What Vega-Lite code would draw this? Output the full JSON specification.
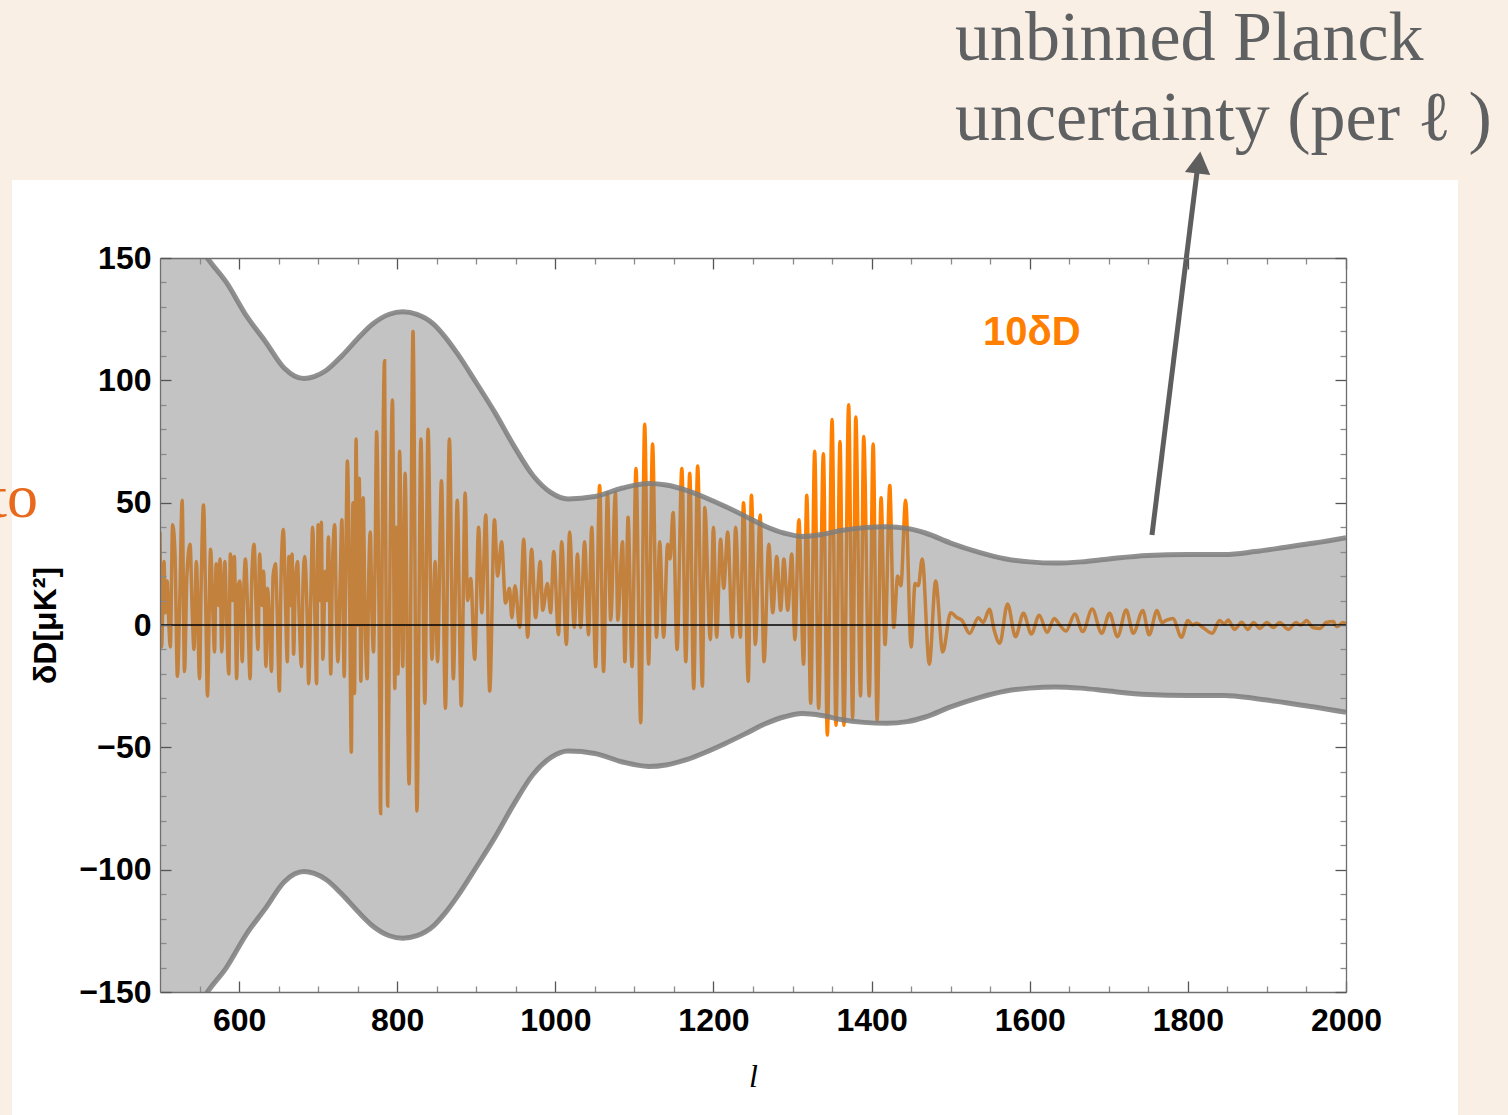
{
  "$schema": "https://vega.github.io/schema/vega-lite/v6.json",
  "width": 1186,
  "height": 734,
  "autosize": {"type": "none"},
  "padding": {"left": 160, "top": 258, "right": 162, "bottom": 123},
  "background": "#f9efe4",
  "config": {
    "view": {"stroke": null, "fill": "white"},
    "axis": {"grid": false, "domain": true, "domainColor": "#6e6e6e", "domainWidth": 1.3, "zindex": 2}
  },
  "datasets": {
    "one": [{}],
    "delta": [
      {"l": 500, "d": 38}, {"l": 502, "d": -9}, {"l": 505, "d": 26}, {"l": 507, "d": 5}, {"l": 509, "d": 18},
      {"l": 511, "d": 2}, {"l": 513, "d": -9}, {"l": 516, "d": 41}, {"l": 519, "d": 29}, {"l": 522, "d": -21},
      {"l": 525, "d": 10}, {"l": 528, "d": 51}, {"l": 531, "d": -19}, {"l": 534, "d": 20}, {"l": 538, "d": 33},
      {"l": 541, "d": 3}, {"l": 543, "d": -10}, {"l": 546, "d": 26}, {"l": 550, "d": -22}, {"l": 552, "d": 15},
      {"l": 555, "d": 49}, {"l": 558, "d": 5}, {"l": 560, "d": -29}, {"l": 564, "d": 31}, {"l": 567, "d": 4},
      {"l": 569, "d": -11}, {"l": 571, "d": 25}, {"l": 574, "d": 8}, {"l": 576, "d": 27}, {"l": 578, "d": -11},
      {"l": 582, "d": 26}, {"l": 584, "d": 6}, {"l": 587, "d": -20}, {"l": 589, "d": 29}, {"l": 592, "d": 10},
      {"l": 594, "d": 28}, {"l": 597, "d": -22}, {"l": 599, "d": 16}, {"l": 601, "d": 18}, {"l": 604, "d": -15},
      {"l": 606, "d": 14}, {"l": 608, "d": 27}, {"l": 611, "d": 5}, {"l": 614, "d": -22}, {"l": 616, "d": 18},
      {"l": 619, "d": 33}, {"l": 622, "d": 2}, {"l": 624, "d": -10}, {"l": 626, "d": 29}, {"l": 629, "d": 8},
      {"l": 631, "d": 22}, {"l": 634, "d": -17}, {"l": 636, "d": 15}, {"l": 638, "d": 5}, {"l": 641, "d": -19},
      {"l": 643, "d": 20}, {"l": 646, "d": 25}, {"l": 648, "d": 8}, {"l": 651, "d": -27}, {"l": 653, "d": 18},
      {"l": 656, "d": 39}, {"l": 659, "d": 5}, {"l": 661, "d": -15}, {"l": 663, "d": 28}, {"l": 665, "d": 8},
      {"l": 667, "d": 29}, {"l": 669, "d": -12}, {"l": 671, "d": 15}, {"l": 674, "d": 26}, {"l": 676, "d": 4},
      {"l": 679, "d": -17}, {"l": 681, "d": 18}, {"l": 683, "d": 28}, {"l": 686, "d": 5}, {"l": 688, "d": -24},
      {"l": 691, "d": 15}, {"l": 693, "d": 40}, {"l": 696, "d": 2}, {"l": 698, "d": -24}, {"l": 700, "d": 41},
      {"l": 702, "d": 10}, {"l": 704, "d": 42}, {"l": 706, "d": -14}, {"l": 709, "d": 22}, {"l": 711, "d": 10},
      {"l": 713, "d": 36}, {"l": 716, "d": -20}, {"l": 718, "d": 22}, {"l": 721, "d": 41}, {"l": 723, "d": 5},
      {"l": 725, "d": -15}, {"l": 728, "d": 20}, {"l": 730, "d": 43}, {"l": 733, "d": -21}, {"l": 735, "d": 25},
      {"l": 737, "d": 67}, {"l": 740, "d": 5}, {"l": 742, "d": -52}, {"l": 744, "d": 50}, {"l": 746, "d": -28},
      {"l": 748, "d": 76}, {"l": 750, "d": 0}, {"l": 752, "d": 60}, {"l": 754, "d": -23}, {"l": 757, "d": 52},
      {"l": 759, "d": 10}, {"l": 762, "d": -22}, {"l": 764, "d": 20}, {"l": 766, "d": 38}, {"l": 768, "d": 5},
      {"l": 770, "d": -11}, {"l": 772, "d": 25}, {"l": 774, "d": 79}, {"l": 777, "d": 5}, {"l": 779, "d": -77},
      {"l": 781, "d": 30}, {"l": 784, "d": 108}, {"l": 786, "d": 5}, {"l": 788, "d": -74}, {"l": 791, "d": 30},
      {"l": 794, "d": 92}, {"l": 797, "d": -26}, {"l": 799, "d": 40}, {"l": 801, "d": -20}, {"l": 803, "d": 71},
      {"l": 807, "d": -17}, {"l": 810, "d": 62}, {"l": 815, "d": -65}, {"l": 820, "d": 120}, {"l": 825, "d": -76},
      {"l": 830, "d": 76}, {"l": 835, "d": -32}, {"l": 839, "d": 80}, {"l": 844, "d": -14}, {"l": 848, "d": 26},
      {"l": 851, "d": -15}, {"l": 856, "d": 59}, {"l": 861, "d": -34}, {"l": 866, "d": 76}, {"l": 871, "d": -22},
      {"l": 876, "d": 51}, {"l": 881, "d": -33}, {"l": 886, "d": 54}, {"l": 889, "d": 10}, {"l": 893, "d": 19},
      {"l": 898, "d": -14}, {"l": 903, "d": 40}, {"l": 907, "d": 5}, {"l": 912, "d": 45}, {"l": 917, "d": -27},
      {"l": 923, "d": 43}, {"l": 927, "d": 20}, {"l": 932, "d": 34}, {"l": 937, "d": 9}, {"l": 942, "d": 15},
      {"l": 945, "d": 3}, {"l": 949, "d": 16}, {"l": 955, "d": -1}, {"l": 960, "d": 35}, {"l": 965, "d": -5},
      {"l": 970, "d": 31}, {"l": 975, "d": 3}, {"l": 981, "d": 26}, {"l": 984, "d": 6}, {"l": 990, "d": 17},
      {"l": 994, "d": 5}, {"l": 998, "d": 30}, {"l": 1004, "d": -4}, {"l": 1008, "d": 34}, {"l": 1014, "d": -8},
      {"l": 1018, "d": 38}, {"l": 1024, "d": -1}, {"l": 1028, "d": 29}, {"l": 1032, "d": -1}, {"l": 1037, "d": 34},
      {"l": 1042, "d": -4}, {"l": 1046, "d": 40}, {"l": 1051, "d": -17}, {"l": 1056, "d": 57}, {"l": 1061, "d": -19},
      {"l": 1066, "d": 54}, {"l": 1070, "d": 2}, {"l": 1076, "d": 54}, {"l": 1079, "d": 2}, {"l": 1085, "d": 34},
      {"l": 1088, "d": -15}, {"l": 1092, "d": 44}, {"l": 1097, "d": -17}, {"l": 1102, "d": 64}, {"l": 1108, "d": -40},
      {"l": 1113, "d": 82}, {"l": 1118, "d": -16}, {"l": 1123, "d": 74}, {"l": 1128, "d": -5}, {"l": 1132, "d": 34},
      {"l": 1137, "d": -5}, {"l": 1142, "d": 33}, {"l": 1145, "d": 27}, {"l": 1149, "d": 46}, {"l": 1154, "d": -10},
      {"l": 1160, "d": 64}, {"l": 1165, "d": -15}, {"l": 1170, "d": 62}, {"l": 1175, "d": -26}, {"l": 1180, "d": 65},
      {"l": 1186, "d": -25}, {"l": 1189, "d": 48}, {"l": 1196, "d": -6}, {"l": 1200, "d": 40}, {"l": 1204, "d": -5},
      {"l": 1209, "d": 35}, {"l": 1213, "d": 15}, {"l": 1218, "d": 38}, {"l": 1224, "d": -5}, {"l": 1228, "d": 40},
      {"l": 1234, "d": -5}, {"l": 1238, "d": 50}, {"l": 1244, "d": -23}, {"l": 1248, "d": 53}, {"l": 1253, "d": -8},
      {"l": 1259, "d": 45}, {"l": 1264, "d": -15}, {"l": 1270, "d": 33}, {"l": 1275, "d": 5}, {"l": 1280, "d": 28},
      {"l": 1285, "d": 6}, {"l": 1289, "d": 27}, {"l": 1294, "d": 6}, {"l": 1299, "d": 29}, {"l": 1303, "d": -6},
      {"l": 1308, "d": 43}, {"l": 1314, "d": -16}, {"l": 1318, "d": 53}, {"l": 1323, "d": -32}, {"l": 1328, "d": 71},
      {"l": 1333, "d": -34}, {"l": 1339, "d": 70}, {"l": 1344, "d": -45}, {"l": 1350, "d": 84}, {"l": 1355, "d": -41},
      {"l": 1360, "d": 75}, {"l": 1365, "d": -41}, {"l": 1371, "d": 90}, {"l": 1376, "d": -38}, {"l": 1380, "d": 85},
      {"l": 1386, "d": -29}, {"l": 1390, "d": 77}, {"l": 1397, "d": -29}, {"l": 1402, "d": 74}, {"l": 1407, "d": -39},
      {"l": 1412, "d": 52}, {"l": 1417, "d": -8}, {"l": 1423, "d": 57}, {"l": 1428, "d": -1}, {"l": 1433, "d": 20},
      {"l": 1437, "d": 16}, {"l": 1443, "d": 51}, {"l": 1450, "d": -9}, {"l": 1455, "d": 17}, {"l": 1459, "d": 16},
      {"l": 1464, "d": 27}, {"l": 1473, "d": -16}, {"l": 1481, "d": 18}, {"l": 1490, "d": -11}, {"l": 1500, "d": 5},
      {"l": 1508, "d": 3}, {"l": 1514, "d": 2}, {"l": 1524, "d": -3.4}, {"l": 1535, "d": 3}, {"l": 1541, "d": 1},
      {"l": 1549, "d": 6.4}, {"l": 1555, "d": -2}, {"l": 1562, "d": -7.5}, {"l": 1572, "d": 8.6}, {"l": 1582, "d": -4.8},
      {"l": 1592, "d": 4.8}, {"l": 1602, "d": -3.7}, {"l": 1612, "d": 4}, {"l": 1622, "d": -3}, {"l": 1631, "d": 2.7},
      {"l": 1638, "d": 0}, {"l": 1646, "d": -2.5}, {"l": 1657, "d": 4.5}, {"l": 1667, "d": -2.7}, {"l": 1679, "d": 6.5},
      {"l": 1691, "d": -3.4}, {"l": 1701, "d": 4.8}, {"l": 1711, "d": -4.8}, {"l": 1722, "d": 6.1}, {"l": 1731, "d": -3.4},
      {"l": 1743, "d": 5.9}, {"l": 1751, "d": -4}, {"l": 1761, "d": 5.9}, {"l": 1767, "d": 1}, {"l": 1773, "d": 2},
      {"l": 1781, "d": 2.7}, {"l": 1792, "d": -5}, {"l": 1800, "d": 1.8}, {"l": 1806, "d": 0}, {"l": 1811, "d": 0.7},
      {"l": 1819, "d": -1}, {"l": 1831, "d": -3.4}, {"l": 1840, "d": 1.8}, {"l": 1846, "d": 0.5}, {"l": 1851, "d": 2},
      {"l": 1859, "d": -1.8}, {"l": 1868, "d": 1.1}, {"l": 1876, "d": -1.8}, {"l": 1883, "d": 1}, {"l": 1891, "d": -1.4},
      {"l": 1900, "d": 1}, {"l": 1908, "d": -1}, {"l": 1916, "d": 1}, {"l": 1927, "d": -1.8}, {"l": 1937, "d": 1},
      {"l": 1942, "d": 0}, {"l": 1946, "d": 0.7}, {"l": 1950, "d": 1.8}, {"l": 1958, "d": -1}, {"l": 1967, "d": -1.4},
      {"l": 1975, "d": 1}, {"l": 1984, "d": 1.4}, {"l": 1988, "d": -0.7}, {"l": 1996, "d": 1}, {"l": 2000, "d": 0.5}
    ],
    "sigma": [
      {"l": 500, "hi": 153, "lo": -153}, {"l": 520, "hi": 157, "lo": -157}, {"l": 535, "hi": 158, "lo": -158},
      {"l": 548, "hi": 156, "lo": -156}, {"l": 560, "hi": 150, "lo": -150}, {"l": 584, "hi": 140, "lo": -140},
      {"l": 610, "hi": 126, "lo": -126}, {"l": 633, "hi": 116, "lo": -116}, {"l": 657, "hi": 105, "lo": -105},
      {"l": 670, "hi": 101.8, "lo": -101.8}, {"l": 682, "hi": 100.7, "lo": -100.7}, {"l": 695, "hi": 101.5, "lo": -101.5},
      {"l": 710, "hi": 104, "lo": -104}, {"l": 730, "hi": 110, "lo": -110}, {"l": 750, "hi": 117, "lo": -117},
      {"l": 769, "hi": 123, "lo": -123}, {"l": 790, "hi": 127, "lo": -127}, {"l": 807, "hi": 128, "lo": -128},
      {"l": 825, "hi": 127, "lo": -127}, {"l": 846, "hi": 123, "lo": -123}, {"l": 860, "hi": 118, "lo": -118},
      {"l": 876, "hi": 111, "lo": -111}, {"l": 900, "hi": 99, "lo": -99}, {"l": 924, "hi": 86.6, "lo": -86.6},
      {"l": 948, "hi": 73, "lo": -73}, {"l": 972, "hi": 61, "lo": -61}, {"l": 995, "hi": 54, "lo": -54},
      {"l": 1016, "hi": 51.5, "lo": -51.5}, {"l": 1050, "hi": 52.5, "lo": -52.5}, {"l": 1085, "hi": 56, "lo": -56},
      {"l": 1118, "hi": 57.8, "lo": -57.8}, {"l": 1140, "hi": 57.2, "lo": -57.2}, {"l": 1166, "hi": 55, "lo": -55},
      {"l": 1190, "hi": 52, "lo": -52}, {"l": 1215, "hi": 48.4, "lo": -48.4}, {"l": 1240, "hi": 44.5, "lo": -44.5},
      {"l": 1264, "hi": 40.6, "lo": -40.6}, {"l": 1290, "hi": 37.5, "lo": -37.5}, {"l": 1312, "hi": 36.2, "lo": -36.2},
      {"l": 1337, "hi": 37, "lo": -37}, {"l": 1361, "hi": 38.6, "lo": -38.6}, {"l": 1390, "hi": 39.8, "lo": -39.8},
      {"l": 1419, "hi": 40.2, "lo": -40.2}, {"l": 1445, "hi": 39.5, "lo": -39.5}, {"l": 1468, "hi": 37.6, "lo": -37.6},
      {"l": 1500, "hi": 33.5, "lo": -33.5}, {"l": 1535, "hi": 29.8, "lo": -29.8}, {"l": 1570, "hi": 27, "lo": -27},
      {"l": 1600, "hi": 25.8, "lo": -25.8}, {"l": 1632, "hi": 25.3, "lo": -25.3}, {"l": 1665, "hi": 25.8, "lo": -25.8},
      {"l": 1700, "hi": 27, "lo": -27}, {"l": 1749, "hi": 28.4, "lo": -28.4}, {"l": 1800, "hi": 28.8, "lo": -28.8},
      {"l": 1846, "hi": 28.8, "lo": -28.8}, {"l": 1885, "hi": 30, "lo": -30}, {"l": 1924, "hi": 31.8, "lo": -31.8},
      {"l": 1960, "hi": 33.5, "lo": -33.5}, {"l": 2000, "hi": 35.7, "lo": -35.7}
    ]
  },
  "resolve": {"scale": {"x": "shared", "y": "shared"}, "axis": {"x": "independent", "y": "independent"}},
  "layer": [
    {
      "description": "white figure panel behind the plot",
      "data": {"name": "one"},
      "mark": {"type": "rect", "fill": "white"},
      "encoding": {
        "x": {"datum": 312.8, "type": "quantitative", "scale": {"domain": [500, 2000], "nice": false, "zero": false}, "axis": null},
        "x2": {"datum": 2141.6},
        "y": {"datum": 181.9, "type": "quantitative", "scale": {"domain": [-150, 150], "nice": false, "zero": false}, "axis": null},
        "y2": {"datum": -200.3}
      }
    },
    {
      "description": "10 x delta D curve",
      "data": {"name": "delta"},
      "mark": {"type": "line", "color": "#ff8000", "strokeWidth": 3.5, "interpolate": "monotone", "clip": true},
      "encoding": {
        "x": {
          "field": "l", "type": "quantitative",
          "scale": {"domain": [500, 2000], "nice": false, "zero": false},
          "axis": {
            "orient": "bottom", "zindex": 2,
            "values": [550, 600, 650, 700, 750, 800, 850, 900, 950, 1000, 1050, 1100, 1150, 1200, 1250, 1300, 1350, 1400, 1450, 1500, 1550, 1600, 1650, 1700, 1750, 1800, 1850, 1900, 1950, 2000],
            "labelExpr": "datum.value % 200 === 0 ? format(datum.value, 'd') : ''",
            "tickSize": {"condition": {"test": "datum.value % 200 === 0", "value": -11}, "value": -6},
            "tickColor": {"condition": {"test": "datum.value % 200 === 0", "value": "#555555"}, "value": "#8a8a8a"},
            "tickWidth": 1.3,
            "labelFont": "Liberation Sans", "labelFontWeight": "bold", "labelFontSize": 32, "labelColor": "black",
            "labelPadding": 24, "labelOverlap": false, "labelFlush": false,
            "title": "l", "titleFont": "Liberation Serif", "titleFontStyle": "italic", "titleFontWeight": "normal",
            "titleFontSize": 32, "titleColor": "black", "titlePadding": 20
          }
        },
        "y": {
          "field": "d", "type": "quantitative",
          "scale": {"domain": [-150, 150], "nice": false, "zero": false},
          "axis": {
            "orient": "left", "zindex": 2,
            "values": [-150, -140, -130, -120, -110, -100, -90, -80, -70, -60, -50, -40, -30, -20, -10, 0, 10, 20, 30, 40, 50, 60, 70, 80, 90, 100, 110, 120, 130, 140, 150],
            "labelExpr": "datum.value % 50 === 0 ? datum.label : ''",
            "tickSize": {"condition": {"test": "datum.value % 50 === 0", "value": -11}, "value": -6},
            "tickColor": {"condition": {"test": "datum.value % 50 === 0", "value": "#555555"}, "value": "#8a8a8a"},
            "tickWidth": 1.3,
            "labelFont": "Liberation Sans", "labelFontWeight": "bold", "labelFontSize": 32, "labelColor": "black",
            "labelPadding": 20, "labelOverlap": false, "labelBaseline": "middle", "labelFlush": false,
            "title": "δD[μK²]", "titleFont": "Liberation Sans", "titleFontWeight": "bold", "titleFontSize": 32,
            "titleColor": "black", "titlePadding": 16
          }
        }
      }
    },
    {
      "description": "per-multipole uncertainty band",
      "data": {"name": "sigma"},
      "mark": {"type": "area", "color": "#818181", "opacity": 0.48, "interpolate": "monotone", "clip": true},
      "encoding": {
        "x": {
          "field": "l", "type": "quantitative",
          "scale": {"domain": [500, 2000], "nice": false, "zero": false},
          "axis": {
            "orient": "top", "zindex": 2,
            "values": [550, 600, 650, 700, 750, 800, 850, 900, 950, 1000, 1050, 1100, 1150, 1200, 1250, 1300, 1350, 1400, 1450, 1500, 1550, 1600, 1650, 1700, 1750, 1800, 1850, 1900, 1950, 2000],
            "labels": false,
            "tickSize": {"condition": {"test": "datum.value % 200 === 0", "value": -11}, "value": -6},
            "tickColor": {"condition": {"test": "datum.value % 200 === 0", "value": "#555555"}, "value": "#8a8a8a"},
            "tickWidth": 1.3,
            "title": null
          }
        },
        "y": {
          "field": "hi", "type": "quantitative",
          "scale": {"domain": [-150, 150], "nice": false, "zero": false},
          "axis": {
            "orient": "right", "zindex": 2,
            "values": [-150, -140, -130, -120, -110, -100, -90, -80, -70, -60, -50, -40, -30, -20, -10, 0, 10, 20, 30, 40, 50, 60, 70, 80, 90, 100, 110, 120, 130, 140, 150],
            "labels": false,
            "tickSize": {"condition": {"test": "datum.value % 50 === 0", "value": -11}, "value": -6},
            "tickColor": {"condition": {"test": "datum.value % 50 === 0", "value": "#555555"}, "value": "#8a8a8a"},
            "tickWidth": 1.3,
            "title": null
          }
        },
        "y2": {"field": "lo"}
      }
    },
    {
      "data": {"name": "sigma"},
      "mark": {"type": "line", "color": "#7c7c7c", "strokeWidth": 5, "opacity": 0.85, "interpolate": "monotone", "clip": true},
      "encoding": {
        "x": {"field": "l", "type": "quantitative", "scale": {"domain": [500, 2000], "nice": false, "zero": false}, "axis": null},
        "y": {"field": "hi", "type": "quantitative", "scale": {"domain": [-150, 150], "nice": false, "zero": false}, "axis": null}
      }
    },
    {
      "data": {"name": "sigma"},
      "mark": {"type": "line", "color": "#7c7c7c", "strokeWidth": 5, "opacity": 0.85, "interpolate": "monotone", "clip": true},
      "encoding": {
        "x": {"field": "l", "type": "quantitative", "scale": {"domain": [500, 2000], "nice": false, "zero": false}, "axis": null},
        "y": {"field": "lo", "type": "quantitative", "scale": {"domain": [-150, 150], "nice": false, "zero": false}, "axis": null}
      }
    },
    {
      "description": "zero line",
      "data": {"name": "one"},
      "mark": {"type": "rule", "color": "black", "strokeWidth": 1.5},
      "encoding": {
        "y": {"datum": 0, "type": "quantitative", "scale": {"domain": [-150, 150], "nice": false, "zero": false}, "axis": null}
      }
    },
    {
      "description": "arrow shaft",
      "data": {"name": "one"},
      "mark": {"type": "rule", "color": "#5e5e5e", "strokeWidth": 5},
      "encoding": {
        "x": {"datum": 1754.6, "type": "quantitative", "scale": {"domain": [500, 2000], "nice": false, "zero": false}, "axis": null},
        "y": {"datum": 36.8, "type": "quantitative", "scale": {"domain": [-150, 150], "nice": false, "zero": false}, "axis": null},
        "x2": {"datum": 1811.5},
        "y2": {"datum": 185}
      }
    },
    {
      "description": "arrow head",
      "data": {"name": "one"},
      "mark": {"type": "point", "shape": "triangle-up", "filled": true, "color": "#5e5e5e", "opacity": 1, "size": 650, "angle": 7},
      "encoding": {
        "x": {"datum": 1814, "type": "quantitative", "scale": {"domain": [500, 2000], "nice": false, "zero": false}, "axis": null},
        "y": {"datum": 189, "type": "quantitative", "scale": {"domain": [-150, 150], "nice": false, "zero": false}, "axis": null}
      }
    },
    {
      "data": {"name": "one"},
      "mark": {"type": "text", "text": "10δD", "font": "Liberation Sans", "fontWeight": "bold", "fontSize": 40, "color": "#ff8000", "align": "left", "baseline": "middle"},
      "encoding": {
        "x": {"datum": 1540.8, "type": "quantitative", "scale": {"domain": [500, 2000], "nice": false, "zero": false}, "axis": null},
        "y": {"datum": 119.3, "type": "quantitative", "scale": {"domain": [-150, 150], "nice": false, "zero": false}, "axis": null}
      }
    },
    {
      "data": {"name": "one"},
      "mark": {"type": "text", "text": "unbinned Planck", "font": "Liberation Serif", "fontSize": 70, "color": "#5f6062", "align": "left", "baseline": "alphabetic"},
      "encoding": {
        "x": {"datum": 1505.4, "type": "quantitative", "scale": {"domain": [500, 2000], "nice": false, "zero": false}, "axis": null},
        "y": {"datum": 230.9, "type": "quantitative", "scale": {"domain": [-150, 150], "nice": false, "zero": false}, "axis": null}
      }
    },
    {
      "data": {"name": "one"},
      "mark": {"type": "text", "text": "uncertainty (per ℓ )", "font": "Liberation Serif", "fontSize": 70, "color": "#5f6062", "align": "left", "baseline": "alphabetic"},
      "encoding": {
        "x": {"datum": 1505.4, "type": "quantitative", "scale": {"domain": [500, 2000], "nice": false, "zero": false}, "axis": null},
        "y": {"datum": 198.2, "type": "quantitative", "scale": {"domain": [-150, 150], "nice": false, "zero": false}, "axis": null}
      }
    },
    {
      "data": {"name": "one"},
      "mark": {"type": "text", "text": "to", "font": "Liberation Serif", "fontSize": 62, "color": "#e8691c", "align": "right", "baseline": "alphabetic"},
      "encoding": {
        "x": {"datum": 345.7, "type": "quantitative", "scale": {"domain": [500, 2000], "nice": false, "zero": false}, "axis": null},
        "y": {"datum": 44.1, "type": "quantitative", "scale": {"domain": [-150, 150], "nice": false, "zero": false}, "axis": null}
      }
    }
  ]
}
